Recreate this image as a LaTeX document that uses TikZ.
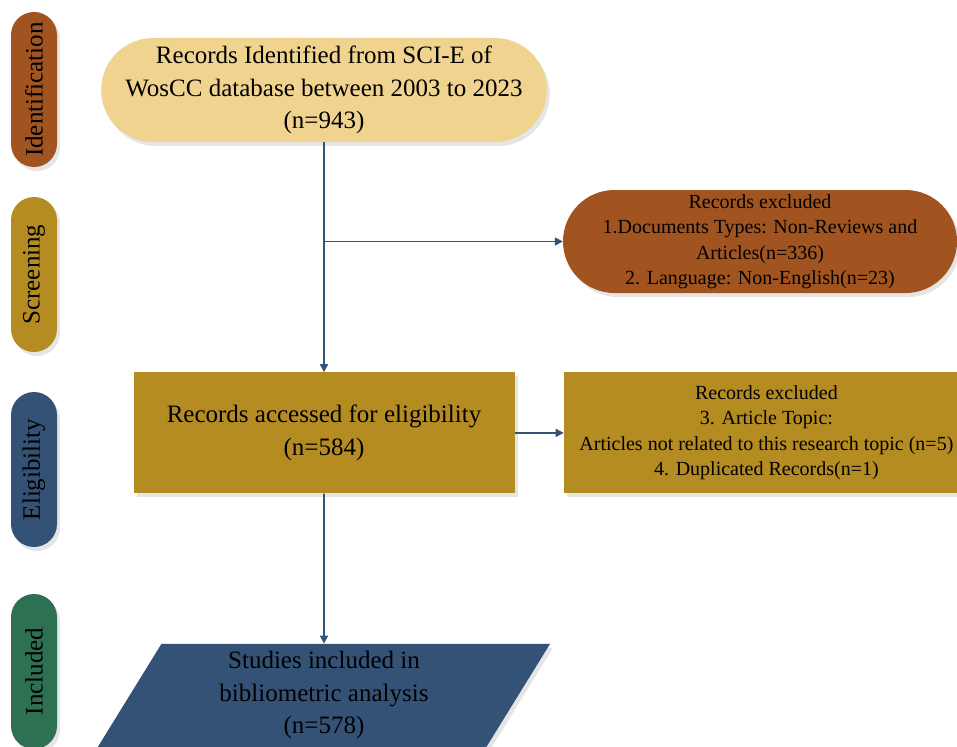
\documentclass[tikz,border=0pt]{standalone}
\usepackage{fontspec}
\setmainfont{Liberation Serif}
\usetikzlibrary{shapes,shapes.geometric,shapes.misc,positioning,arrows.meta,shadows}
\definecolor{rust}{RGB}{161,84,31}
\definecolor{ochre}{RGB}{181,140,34}
\definecolor{sand}{RGB}{240,211,142}
\definecolor{navy}{RGB}{52,82,118}
\definecolor{pine}{RGB}{46,112,82}
\tikzstyle{phase}=[rounded rectangle, rotate=90, minimum width=155pt, minimum height=46pt, inner sep=0pt, font=\fontsize{25}{30}\selectfont, drop shadow={shadow xshift=3pt, shadow yshift=-4pt, fill=black!20}]
\tikzstyle{box}=[align=center, inner sep=0pt, font=\fontsize{25}{32.5}\selectfont, drop shadow={shadow xshift=3pt, shadow yshift=-4pt, fill=black!20}]
\tikzstyle{note}=[box, font=\fontsize{20}{25.5}\selectfont]
\tikzstyle{link}=[draw=navy, line width=1.6pt, -{Triangle[length=8pt,width=8pt]}]

\begin{document}
\begin{tikzpicture}[x=1pt,y=-1pt]
    \useasboundingbox (0,0) rectangle (957,746);
    \node[phase,fill=rust] (ident) at (34,89.5) {Identification};
    \node[phase,fill=ochre] (screen) at (34,274.5) {Screening};
    \node[phase,fill=navy] (elig) at (34,469.5) {Eligibility};
    \node[phase,fill=pine] (incl) at (34,671.5) {Included};

    \node[box,rounded rectangle,fill=sand,minimum width=436pt,minimum height=104pt] (rec) at (324,90) {Records Identified from SCI-E of\\WosCC database between 2003 to 2023\\(n=943)};
    \node[box,fill=ochre,minimum width=381pt,minimum height=121pt] (acc) [below = 230pt of rec] {Records accessed for eligibility\\(n=584)};
    \node[note,fill=ochre,minimum width=405pt,minimum height=121pt] (excl2) [right = 49pt of acc] {Records excluded\\3. Article Topic:\\Articles not related to this research topic (n=5)\\4. Duplicated Records(n=1)};
    \node[note,rounded rectangle,fill=rust,minimum width=394pt,minimum height=103pt] (excl1) at (760,241.5) {Records excluded\\1.Documents Types: Non-Reviews and\\Articles(n=336)\\2. Language: Non-English(n=23)};
    \node[box,trapezium,trapezium left angle=65,trapezium right angle=115,trapezium stretches=true,fill=navy,minimum width=453pt,minimum height=103pt] (stud) [below = 150pt of acc] {Studies included in\\bibliometric analysis\\(n=578)};

    \coordinate (split) at (rec.south |- excl1.west);
    \draw[link] (rec) -- (acc);
    \draw[link] (split) -- (excl1);
    \draw[link] (acc) -- (excl2);
    \draw[link] (acc) -- (stud);
\end{tikzpicture}
\end{document}
